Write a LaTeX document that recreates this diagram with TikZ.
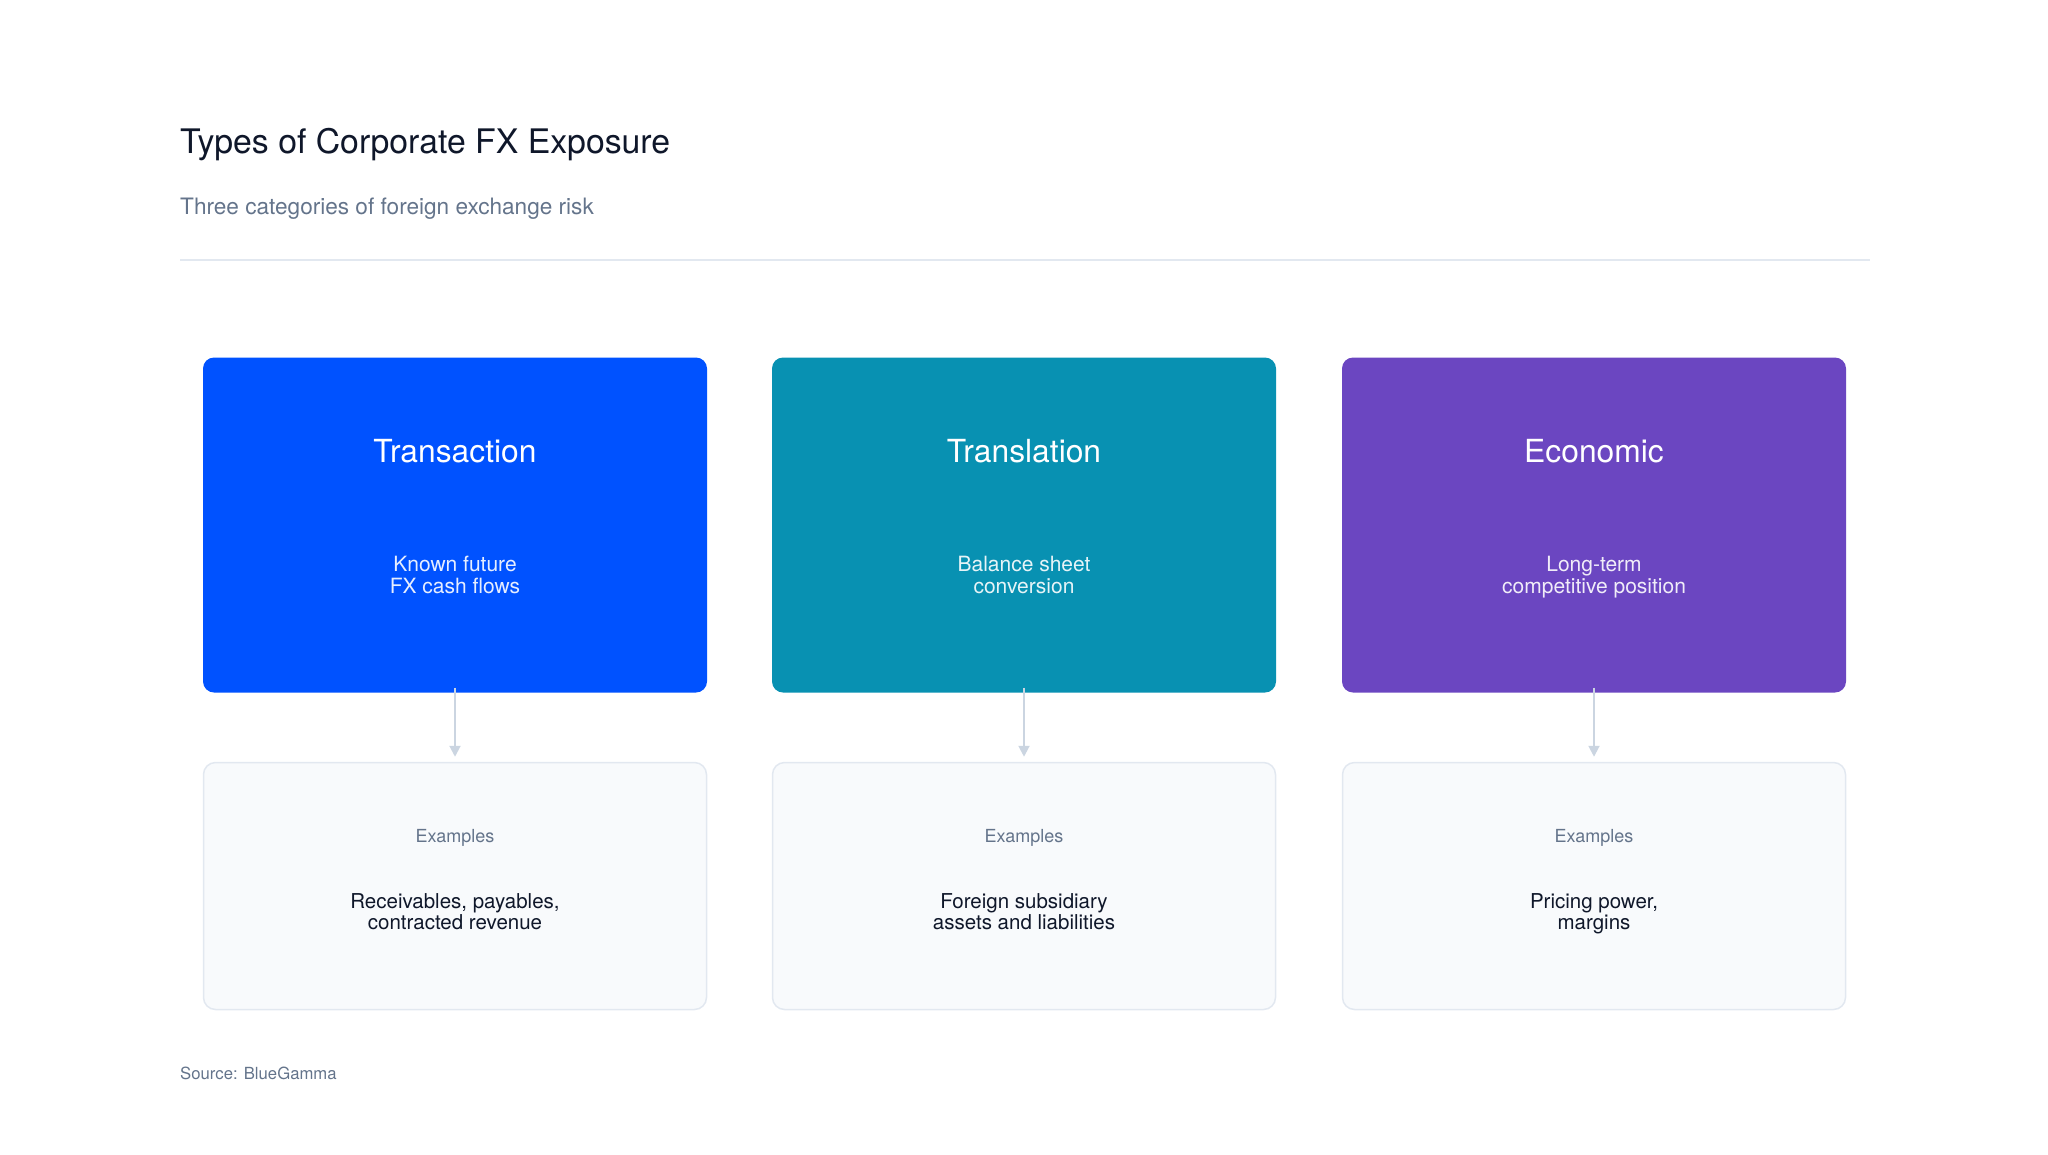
\documentclass[tikz,border=0pt]{standalone}
\usepackage{fontspec}
\setmainfont{TeX Gyre Heros}
\usepackage{xcolor}
\usepackage{tikz}
\usetikzlibrary{arrows.meta}

\definecolor{inkdark}{HTML}{0F172A}
\definecolor{inkgray}{HTML}{64748B}
\definecolor{rulegray}{HTML}{E2E8F0}
\definecolor{arrowgray}{HTML}{CBD5E1}
\definecolor{panelfill}{HTML}{F8FAFC}
\definecolor{txblue}{HTML}{0052FF}
\definecolor{tlteal}{HTML}{0891B2}
\definecolor{ecpurple}{HTML}{6B46C1}

\begin{document}
\begin{tikzpicture}[x=1pt,y=-1pt,
		typebox/.style={rounded corners=11pt, minimum width=504pt, minimum height=335pt, inner sep=0pt},
		examplebox/.style={rounded corners=12pt, draw=rulegray, line width=1.5pt, fill=panelfill, minimum width=503pt, minimum height=247pt, inner sep=0pt},
		flowarrow/.style={arrowgray, line width=2pt, -{Triangle[length=11pt,width=11pt]}}]
		\useasboundingbox (0,0) rectangle (2048,1154);
		
		\node[anchor=base west, inner sep=0pt, text=inkdark, font=\fontsize{33.8}{40}\selectfont] (title) at (180,153) {Types of Corporate FX Exposure};
		\node[anchor=base west, inner sep=0pt, text=inkgray, font=\fontsize{22.6}{26}\selectfont] (subtitle) at (180,214) {Three categories of foreign exchange risk};
		\draw[rulegray, line width=1.5pt] (180,260) -- (1870,260);
		
		\foreach \i/\x/\col/\name/\desc/\ex in {
			1/455/txblue/Transaction/{Known future\\FX cash flows}/{Receivables, payables,\\contracted revenue},
			2/1024/tlteal/Translation/{Balance sheet\\conversion}/{Foreign subsidiary\\assets and liabilities},
			3/1594/ecpurple/Economic/{Long-term\\competitive position}/{Pricing power,\\margins}}{
			\node[typebox, fill=\col] (type\i) at (\x,525) {};
			\node[anchor=base, text=white, font=\fontsize{31.8}{37}\selectfont] (typename\i) at (\x,462) {\name};
			% base anchor sits on the last line
			\node[anchor=base, align=center, text=white, text opacity=0.9, font=\fontsize{21}{22}\selectfont] (typedesc\i) at (\x,593) {\desc};
			
			\node[examplebox] (examples\i) at (\x,886) {};
			\node[anchor=base, text=inkgray, font=\fontsize{18}{22}\selectfont] (exlabel\i) at (\x,842) {Examples};
			\node[anchor=base, align=center, text=inkdark, font=\fontsize{20.5}{21}\selectfont] (extext\i) at (\x,929) {\ex};
			
			\draw[flowarrow] ([yshift=5pt]type\i.south) -- ([yshift=5pt]examples\i.north);
		}
		
		\node[anchor=base west, inner sep=0pt, text=inkgray, font=\fontsize{16.7}{20}\selectfont] (source) at (180,1079) {Source: BlueGamma};
	\end{tikzpicture}
\end{document}
